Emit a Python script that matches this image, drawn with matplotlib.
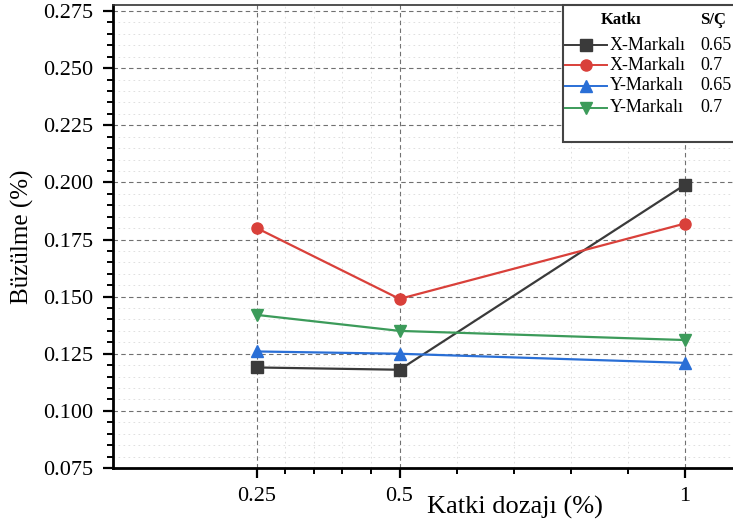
import matplotlib
matplotlib.use("Agg")
import matplotlib.pyplot as plt
from matplotlib.lines import Line2D
from matplotlib.patches import Rectangle

plt.rcParams['font.family'] = ['Liberation Serif', 'DejaVu Serif']

dosage = [0.25, 0.5, 1.0]
x_ticks = [0.25, 0.5, 1.0]
x_tick_labels = ['0.25', '0.5', '1']
x_minor = [0.30, 0.35, 0.40, 0.45, 0.6, 0.7, 0.8, 0.9]
y_ticks = [0.075, 0.100, 0.125, 0.150, 0.175, 0.200, 0.225, 0.250, 0.275]

x_065 = [0.119, 0.118, 0.199]
x_07 = [0.180, 0.149, 0.182]
y_065 = [0.126, 0.125, 0.121]
y_07 = [0.142, 0.135, 0.131]

series = [
    ('X-Markalı', '0.65', x_065, '#3a3a3a', 's'),
    ('X-Markalı', '0.7', x_07, '#d9403a', 'o'),
    ('Y-Markalı', '0.65', y_065, '#2a6fd6', '^'),
    ('Y-Markalı', '0.7', y_07, '#3c9b5a', 'v'),
]

W, H = 733, 524
fig = plt.figure(figsize=(W / 100, H / 100), dpi=100)
left, right, bottom, top = 113, 733, 468, 5
ax = fig.add_axes([left / W, (H - bottom) / H, (right - left) / W, (bottom - top) / H])

x_lo = 0.25 - (257 - 113) / 572
x_hi = 1.0 + (733 - 685) / 572
ax.set_xlim(x_lo, x_hi)
ax.set_ylim(0.075, 0.275 + 0.025 * 6 / 57.1)

for name, sc, vals, col, mk in series:
    ax.plot(dosage, vals, color=col, marker=mk, markersize=8, linewidth=1.6, zorder=3)

ax.set_xticks(x_ticks)
ax.set_xticklabels(x_tick_labels)
ax.set_xticks(x_minor, minor=True)
ax.set_yticks(y_ticks)
ax.set_yticklabels([f'{v:.3f}' for v in y_ticks])
ax.set_yticks([0.075 + 0.005 * i for i in range(41)], minor=True)

ax.grid(which='major', linestyle=(0, (4, 3)), color='#707070', linewidth=0.8)
ax.grid(which='minor', linestyle=(0, (2, 4)), color='#dadada', linewidth=0.6)
ax.set_axisbelow(True)

ax.tick_params(which='major', direction='out', length=7, width=1.6, labelsize=16, pad=7)
ax.tick_params(which='minor', direction='out', length=4, width=1.4)
for s in ['left', 'bottom']:
    ax.spines[s].set_linewidth(2.0)
ax.spines['top'].set_linewidth(1.2)
ax.spines['top'].set_color('#333333')
ax.spines['right'].set_visible(False)

ax.set_ylabel('Büzülme (%)', fontsize=18, labelpad=7)
fig.text(515 / W, 1 - 507 / H, 'Katki dozajı (%)', fontsize=19, ha='center', va='center')

# legend box (drawn manually)
def fx(px):
    return px / W

def fy(py):
    return 1 - py / H

fig.patches.append(Rectangle((fx(563), fy(142)), fx(740) - fx(563), fy(5) - fy(142),
                             transform=fig.transFigure, facecolor='white',
                             edgecolor='#444444', linewidth=1.5, zorder=10))
fig.text(fx(621), fy(20), 'Katkı', fontsize=12, fontweight='bold', ha='center', va='center', zorder=11)
fig.text(fx(700), fy(20), 'S/Ç', fontsize=12, fontweight='bold', ha='left', va='center', zorder=11)
rows = [45, 65, 86, 108]
for (name, sc, vals, col, mk), ry in zip(series, rows):
    fig.lines.append(Line2D([fx(565), fx(607)], [fy(ry), fy(ry)], transform=fig.transFigure,
                            color=col, linewidth=1.4, zorder=11))
    fig.lines.append(Line2D([fx(586)], [fy(ry)], transform=fig.transFigure, color=col,
                            marker=mk, markersize=8, linestyle='none', zorder=11))
    fig.text(fx(610), fy(ry), name, fontsize=13, ha='left', va='center', zorder=11)
    fig.text(fx(700), fy(ry), sc, fontsize=13, ha='left', va='center', zorder=11)

fig.savefig('out.png', dpi=100)
